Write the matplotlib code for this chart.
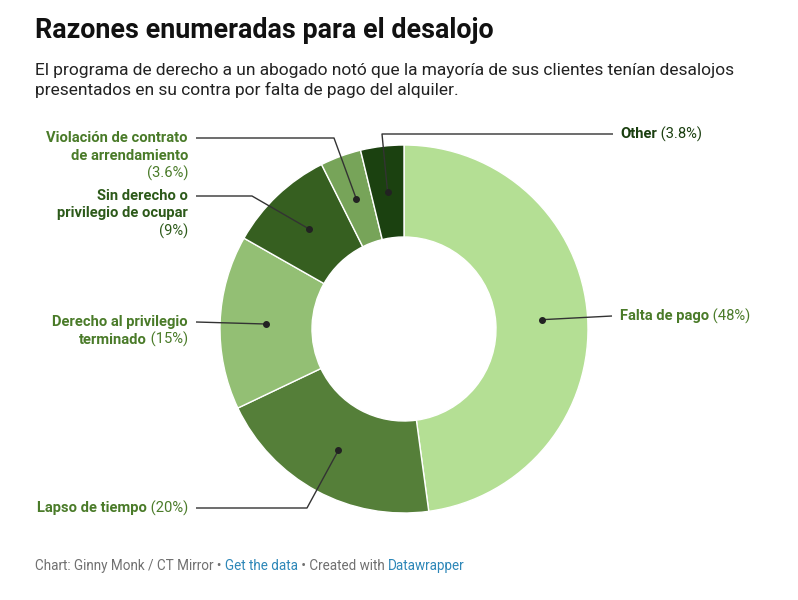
import numpy as np
import matplotlib
matplotlib.use('Agg')
import matplotlib.pyplot as plt

plt.rcParams['font.family'] = ['Roboto', 'DejaVu Sans']

# data, clockwise from the top (slice sizes)
names = ['Falta de pago', 'Lapso de tiempo', 'Derecho al privilegio terminado',
         'Sin derecho o privilegio de ocupar', 'Violación de contrato de arrendamiento', 'Other']
values = [47.9, 20.1, 15.3, 9.4, 3.6, 3.8]
pct_labels = ['(48%)', '(20%)', '(15%)', '(9%)', '(3.6%)', '(3.8%)']
slice_colors = ['#b4df94', '#557f39', '#93bf74', '#365f20', '#77a459', '#1b4110']
text_colors = ['#4a7b29', '#4a7b29', '#4a7b29', '#2d5a1a', '#4a7b29', '#1b3f10']

# label lines: (bold part, normal part) per line
label_lines = [
    [('Falta de pago', ' (48%)')],
    [('Lapso de tiempo', ' (20%)')],
    [('Derecho al privilegio', ''), ('terminado', ' (15%)')],
    [('Sin derecho o', ''), ('privilegio de ocupar', ''), ('', '(9%)')],
    [('Violación de contrato', ''), ('de arrendamiento', ''), ('', '(3.6%)')],
    [('Other', ' (3.8%)')],
]

W, H = 798, 600
fig = plt.figure(figsize=(W / 100, H / 100), dpi=100)
ax = fig.add_axes([0, 0, 1, 1])

def Y(p):
    return H - p

cx, cy, R, ring = 404, 329, 184, 92
wedges, _ = ax.pie(values, colors=slice_colors, startangle=90, counterclock=False,
                   radius=R, center=(cx, Y(cy)),
                   wedgeprops=dict(width=ring, edgecolor='white', linewidth=1))
ax.set_xlim(0, W)
ax.set_ylim(0, H)
ax.set_aspect('equal')
ax.axis('off')

renderer = fig.canvas.get_renderer()
fs = 10.65

def width_of(t):
    return t.get_window_extent(renderer=renderer).width

def put_line(x, y, bold, normal, color, align):
    if align == 'left':
        xx = x
        if bold:
            t = ax.text(xx, Y(y), bold, fontsize=fs, fontweight='bold', color=color,
                        ha='left', va='center')
            xx += width_of(t)
        if normal:
            ax.text(xx, Y(y), normal, fontsize=fs, color=color, ha='left', va='center')
    else:
        xx = x
        if normal:
            t = ax.text(xx, Y(y), normal, fontsize=fs, color=color, ha='right', va='center')
            xx -= width_of(t)
        if bold:
            ax.text(xx, Y(y), bold, fontsize=fs, fontweight='bold', color=color,
                    ha='right', va='center')

# label layout: anchor x, first line y, side, leader elbow points
layout = [
    (620, 316, 'left', [(612, 316)]),
    (188, 508, 'right', [(307, 508), (196, 508)]),
    (188, 322, 'right', [(196, 322)]),
    (188, 196, 'right', [(252, 196), (196, 196)]),
    (188, 138, 'right', [(334, 138), (196, 138)]),
    (620, 134, 'left', [(382, 134), (613, 134)]),
]
line_h = 17.5

for w, lines, (lx, ly, side, pts), col in zip(wedges, label_lines, layout, text_colors):
    mid = np.deg2rad((w.theta1 + w.theta2) / 2)
    r_mid = R - ring / 2
    dx = cx + r_mid * np.cos(mid)
    dy = Y(cy) + r_mid * np.sin(mid)
    xs = [dx] + [p[0] for p in pts]
    ys = [dy] + [Y(p[1]) for p in pts]
    ax.plot(xs, ys, color='#333333', lw=1, solid_capstyle='butt')
    ax.plot(dx, dy, 'o', color='#222222', ms=4)
    for i, (b, n) in enumerate(lines):
        put_line(lx, ly + i * line_h, b, n, col, side)

# title and subtitle
ax.text(35, Y(31), 'Razones enumeradas para el desalojo', fontsize=19.4, fontweight='bold',
        color='#111111', ha='left', va='center')
ax.text(35, Y(71), 'El programa de derecho a un abogado notó que la mayoría de sus clientes tenían desalojos',
        fontsize=12.5, color='#222222', ha='left', va='center')
ax.text(35, Y(90), 'presentados en su contra por falta de pago del alquiler.',
        fontsize=12.5, color='#222222', ha='left', va='center')

# footer
footer = [('Chart: Ginny Monk / CT Mirror • ', '#707070'), ('Get the data', '#2d87b8'),
          (' • Created with ', '#707070'), ('Datawrapper', '#2d87b8')]
fx = 35
for txt, c in footer:
    t = ax.text(fx, Y(566), txt, fontsize=9.75, color=c, ha='left', va='center')
    fx += width_of(t)

fig.savefig('out.png', dpi=100, facecolor='white')
